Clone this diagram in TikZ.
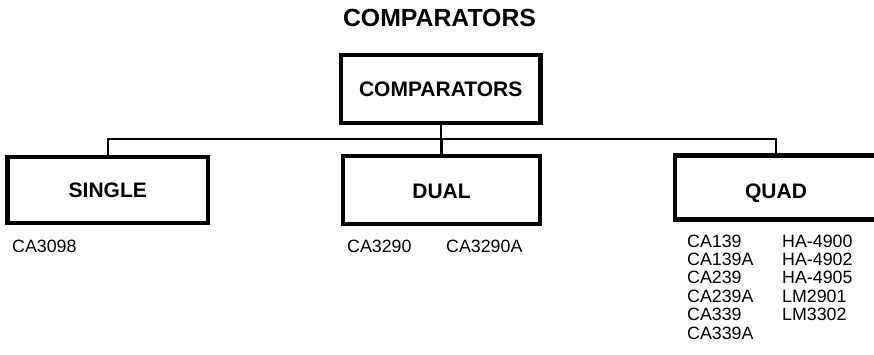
\documentclass[tikz,border=0pt]{standalone}
\usepackage{fontspec}
\setmainfont{Liberation Sans}
\begin{document}
\begin{tikzpicture}[x=1pt,y=-1pt,
  box/.style={draw, line width=4.5pt, inner sep=0pt, outer sep=0pt, text depth=0pt,
    font=\fontsize{21}{25}\selectfont\bfseries},
  conn/.style={line width=2.4pt},
  part/.style={anchor=base west, inner sep=0pt, font=\fontsize{17.8}{20}\selectfont}]
\fill[white] (0,0) rectangle (874,355);
\clip (0,0) rectangle (874,355);
\node[anchor=base, inner sep=0pt, font=\fontsize{24.8}{28}\selectfont\bfseries] (title) at (439.5,27) {COMPARATORS};
\node[box, minimum width=199.5pt, minimum height=68pt] (top) at (440.7,89) {COMPARATORS};
\node[box, minimum width=200.5pt, minimum height=66pt] (single) at (107.75,190) {SINGLE};
\node[box, minimum width=197pt, minimum height=68pt, text height=18pt] (dual) at (441.5,190) {DUAL};
\node[box, minimum width=202pt, minimum height=64pt, text height=22pt] (quad) at (776,187.5) {QUAD};
\draw[conn] (top.south) -- ++(0,16) coordinate (j);
\draw[conn] (single.north) |- (j) -| (quad.north);
\draw[conn] (j -| dual.north) -- (dual.north);
\node[part] (ca3098) at (12,252) {CA3098};
\node[part] (ca3290) at (347,252) {CA3290};
\node[part] (ca3290a) at (446,252) {CA3290A};
\node[part] (ca139) at (687,247) {CA139};
\node[part] (ca139a) at (687,265.4) {CA139A};
\node[part] (ca239) at (687,283.8) {CA239};
\node[part] (ca239a) at (687,302.2) {CA239A};
\node[part] (ca339) at (687,320.6) {CA339};
\node[part] (ca339a) at (687,339) {CA339A};
\node[part] (ha4900) at (782,247) {HA-4900};
\node[part] (ha4902) at (782,265.4) {HA-4902};
\node[part] (ha4905) at (782,283.8) {HA-4905};
\node[part] (lm2901) at (782,302.2) {LM2901};
\node[part] (lm3302) at (782,320.6) {LM3302};
\end{tikzpicture}
\end{document}
